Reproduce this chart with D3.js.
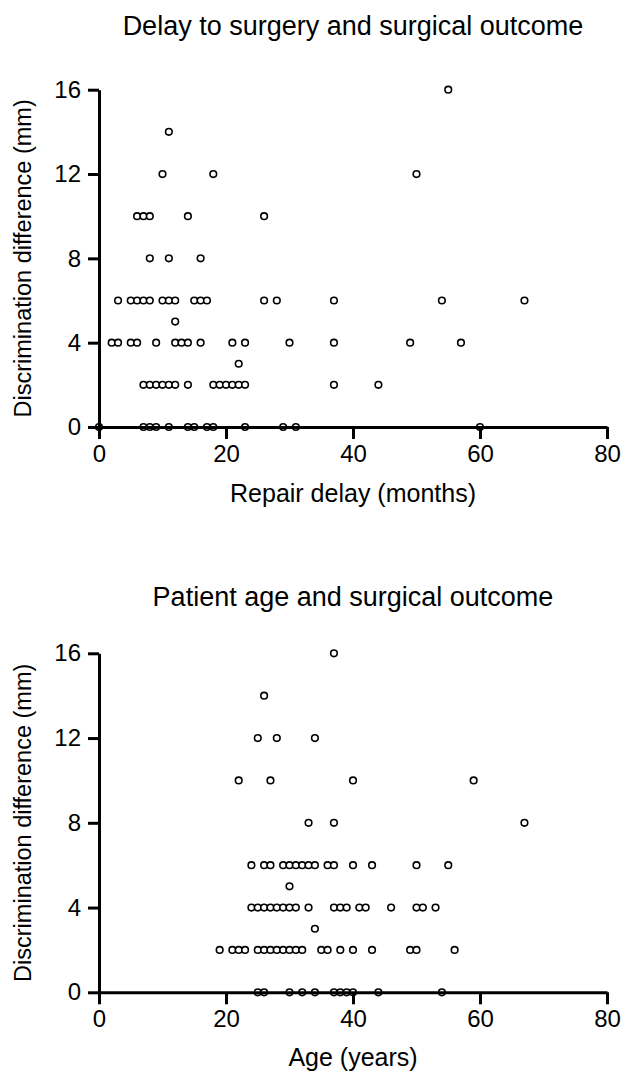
<!DOCTYPE html>
<html>
<head>
<meta charset="utf-8">
<script src="https://cdn.jsdelivr.net/npm/d3@7"></script>
<style>
  html, body { margin: 0; padding: 0; background: #fff; }
  svg { display: block; font-family: Arial, "Liberation Sans", sans-serif; }
</style>
</head>
<body>
<svg id="chart" width="625" height="1076"></svg>
<script>
// ---- Data: Repair delay (months) vs discrimination difference (mm)
const delayX = [
  55,
  11,
  10, 18, 50,
  6, 7, 8, 14, 26,
  8, 11, 16,
  3, 5, 6, 7, 8, 10, 11, 12, 15, 16, 17, 26, 28, 37, 54, 67,
  12,
  2, 3, 5, 6, 9, 12, 13, 14, 16, 21, 23, 30, 37, 49, 57,
  22,
  7, 8, 9, 10, 11, 12, 14, 18, 19, 20, 21, 22, 23, 37, 44,
  0, 7, 8, 9, 11, 14, 15, 17, 18, 23, 29, 31, 60
];
const delayY = [
  16,
  14,
  12, 12, 12,
  10, 10, 10, 10, 10,
  8, 8, 8,
  6, 6, 6, 6, 6, 6, 6, 6, 6, 6, 6, 6, 6, 6, 6, 6,
  5,
  4, 4, 4, 4, 4, 4, 4, 4, 4, 4, 4, 4, 4, 4, 4,
  3,
  2, 2, 2, 2, 2, 2, 2, 2, 2, 2, 2, 2, 2, 2, 2,
  0, 0, 0, 0, 0, 0, 0, 0, 0, 0, 0, 0, 0
];

// ---- Data: Age (years) vs discrimination difference (mm)
const ageX = [
  37,
  26,
  25, 28, 34,
  22, 27, 40, 59,
  33, 37, 67,
  24, 26, 27, 29, 30, 31, 32, 33, 34, 36, 37, 40, 43, 50, 55,
  30,
  24, 25, 26, 27, 28, 29, 30, 31, 33, 37, 38, 39, 41, 42, 46, 50, 51, 53,
  34,
  19, 21, 22, 23, 25, 26, 27, 28, 29, 30, 31, 32, 35, 36, 38, 40, 43, 49, 50, 56,
  25, 26, 30, 32, 34, 37, 38, 39, 40, 44, 54
];
const ageY = [
  16,
  14,
  12, 12, 12,
  10, 10, 10, 10,
  8, 8, 8,
  6, 6, 6, 6, 6, 6, 6, 6, 6, 6, 6, 6, 6, 6, 6,
  5,
  4, 4, 4, 4, 4, 4, 4, 4, 4, 4, 4, 4, 4, 4, 4, 4, 4, 4,
  3,
  2, 2, 2, 2, 2, 2, 2, 2, 2, 2, 2, 2, 2, 2, 2, 2, 2, 2, 2, 2,
  0, 0, 0, 0, 0, 0, 0, 0, 0, 0, 0
];

const xTicks = [0, 20, 40, 60, 80];
const yTicks = [0, 4, 8, 12, 16];

const panels = [
  { title: "Delay to surgery and surgical outcome", xLabel: "Repair delay (months)",
    yLabel: "Discrimination difference (mm)", xs: delayX, ys: delayY },
  { title: "Patient age and surgical outcome", xLabel: "Age (years)",
    yLabel: "Discrimination difference (mm)", xs: ageX, ys: ageY }
];

// ---- Layout
const layout = [
  { left: 99, right: 607, top: 89.7, bottom: 427, titleY: 35, xLabelY: 502, yLabelX: 31 },
  { left: 99, right: 607, top: 653.3, bottom: 992.3, titleY: 606, xLabelY: 1066, yLabelX: 31 }
];

const svg = d3.select("#chart");

panels.forEach((p, i) => {
  const L = layout[i];
  const x = d3.scaleLinear().domain([0, 80]).range([L.left, L.right]);
  const y = d3.scaleLinear().domain([0, 16]).range([L.bottom, L.top]);
  const g = svg.append("g");

  // title
  g.append("text")
    .attr("x", (L.left + L.right) / 2)
    .attr("y", L.titleY)
    .attr("text-anchor", "middle")
    .attr("font-size", 27)
    .attr("fill", "#000")
    .text(p.title);

  // points
  const pts = p.xs.map((v, k) => ({ x: v, y: p.ys[k] }));
  g.append("g").selectAll("circle")
    .data(pts)
    .enter().append("circle")
    .attr("cx", d => x(d.x))
    .attr("cy", d => y(d.y))
    .attr("r", 3.3)
    .attr("fill", "#fff")
    .attr("stroke", "#000")
    .attr("stroke-width", 1.6);

  // x axis
  const xAxis = g.append("g")
    .attr("transform", `translate(0,${L.bottom})`)
    .call(d3.axisBottom(x).tickValues(xTicks).tickSize(12).tickPadding(6).tickSizeOuter(0));
  // y axis
  const yAxis = g.append("g")
    .attr("transform", `translate(${L.left},0)`)
    .call(d3.axisLeft(y).tickValues(yTicks).tickSize(11).tickPadding(7).tickSizeOuter(0));

  [xAxis, yAxis].forEach(a => {
    a.select(".domain").attr("stroke", "#000").attr("stroke-width", 3);
    a.selectAll(".tick line").attr("stroke", "#000").attr("stroke-width", 3);
    a.selectAll(".tick text")
      .attr("font-size", 24)
      .attr("fill", "#000")
      .attr("font-family", "Arial, 'Liberation Sans', sans-serif");
  });

  // axis labels
  g.append("text")
    .attr("x", (L.left + L.right) / 2)
    .attr("y", L.xLabelY)
    .attr("text-anchor", "middle")
    .attr("font-size", 25)
    .attr("fill", "#000")
    .text(p.xLabel);

  g.append("text")
    .attr("transform", `translate(${L.yLabelX},${(L.top + L.bottom) / 2}) rotate(-90)`)
    .attr("text-anchor", "middle")
    .attr("font-size", 23.5)
    .attr("fill", "#000")
    .text(p.yLabel);
});
</script>
</body>
</html>
